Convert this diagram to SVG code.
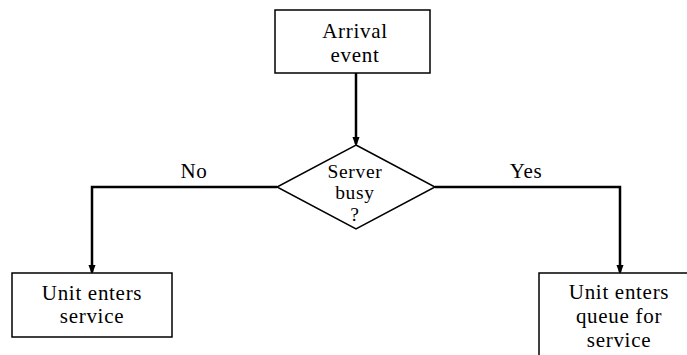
<svg xmlns="http://www.w3.org/2000/svg" width="687" height="355" viewBox="0 0 687 355">
<style>
  .box { fill: #fff; stroke: #000; stroke-width: 1.5; }
  .t { font-family: "Liberation Serif", "Times New Roman", serif; font-size: 21px; letter-spacing: 0.7px; text-anchor: middle; fill: #000; }
  .d { font-size: 19.5px; }
  .edge { fill: none; stroke: #000; stroke-width: 2.5; marker-end: url(#arrow); }
</style>
<defs>
  <marker id="arrow" markerWidth="10" markerHeight="14" refX="10" refY="5" orient="auto" markerUnits="userSpaceOnUse" viewBox="0 0 14 10">
    <path d="M0,0 L14,5 L0,10 Z" fill="#000"/>
  </marker>
</defs>
<rect width="687" height="355" fill="#fff"/>
<g id="connectors">
  <path class="edge" d="M356,73 V144"/>
  <path class="edge" d="M277,187 H92 V272"/>
  <path class="edge" d="M435,187 H620 V272"/>
  <text class="t" x="194" y="178">No</text>
  <text class="t" x="526" y="178">Yes</text>
</g>
<g id="arrival">
  <rect class="box" x="275" y="10" width="155" height="63"/>
  <text class="t" x="355" y="38">Arrival</text>
  <text class="t" x="355" y="62">event</text>
</g>
<g id="decision">
  <polygon class="box" points="356,145 435,187 356,229 277,187"/>
  <text class="t d" x="355" y="178">Server</text>
  <text class="t d" x="355" y="199">busy</text>
  <text class="t d" x="355" y="221">?</text>
</g>
<g id="enter-service">
  <rect class="box" x="12" y="273" width="160" height="64"/>
  <text class="t" x="92" y="300">Unit enters</text>
  <text class="t" x="92" y="323">service</text>
</g>
<g id="enter-queue">
  <rect class="box" x="539" y="273" width="160" height="100"/>
  <text class="t" x="619" y="299">Unit enters</text>
  <text class="t" x="619" y="323">queue for</text>
  <text class="t" x="619" y="347">service</text>
</g>
</svg>
